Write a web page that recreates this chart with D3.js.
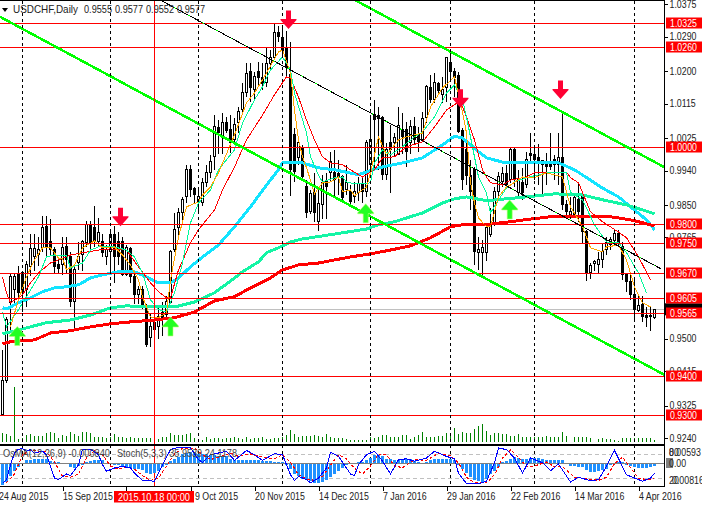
<!DOCTYPE html>
<html><head><meta charset="utf-8">
<style>html,body{margin:0;padding:0;background:#fff}svg{display:block}text{font-family:"Liberation Sans",Arial,sans-serif}</style>
<script src="https://cdn.jsdelivr.net/npm/d3@7/dist/d3.min.js"></script>
</head><body><script>
const open=[.9301,.9390,.9594,.9628,.9668,.9673,.9628,.9689,.9715,.9720,
.9739,.9794,.9754,.9733,.9694,.9694,.9741,.9715,.9598,.9700,
.9720,.9752,.9799,.9791,.9754,.9754,.9715,.9728,.9773,.9754,
.9754,.9668,.9736,.9663,.9616,.9629,.9579,.9504,.9543,.9533,
.9569,.9564,.9595,.9733,.9791,.9830,.9872,.9942,.9893,.9856,
.9856,.9908,.9934,.9976,1.0052,1.0028,1.0065,1.0047,1.0021,1.0065,
1.0099,1.0146,1.0198,1.0151,1.0198,1.0182,1.0169,1.0219,1.0235,1.0300,
1.0289,1.0261,1.0190,1.0034,.9974,1.0000,.9898,.9833,.9882,.9806,
.9851,.9911,.9934,.9934,.9932,.9924,.9890,.9885,.9872,.9882,
.9906,.9885,.9955,1.0086,1.0083,1.0078,.9929,1.0013,1.0013,.9982,
1.0047,1.0047,1.0013,1.0055,1.0034,1.0020,1.0078,1.0156,1.0125,1.0167,
1.0138,1.0156,1.0222,1.0198,1.0188,1.0044,.9994,.9927,.9942,.9726,
.9726,.9726,.9773,.9799,.9885,.9911,.9932,.9916,.9994,.9882,
.9908,.9903,.9984,.9981,.9973,.9966,.9960,.9960,.9968,.9955,
.9973,.9851,.9825,.9825,.9864,.9872,.9780,.9673,.9697,.9694,
.9707,.9733,.9746,.9757,.9775,.9741,.9668,.9650,.9616,.9574,
.9590,.9561,.9561,.9555];
const high=[.9471,.9556,.9673,.9668,.9689,.9676,.9702,.9773,.9773,.9767,
.9820,.9820,.9812,.9739,.9715,.9765,.9765,.9728,.9689,.9754,
.9759,.9807,.9807,.9848,.9817,.9773,.9746,.9778,.9796,.9778,
.9767,.9746,.9741,.9673,.9637,.9637,.9590,.9564,.9561,.9585,
.9595,.9611,.9733,.9830,.9843,.9872,.9955,.9955,.9898,.9898,
.9921,.9955,.9981,1.0086,1.0073,1.0091,1.0081,1.0086,1.0078,1.0107,
1.0169,1.0222,1.0222,1.0198,1.0224,1.0222,1.0261,1.0255,1.0326,1.0318,
1.0313,1.0305,1.0276,1.0052,1.0020,1.0008,.9916,.9890,.9934,.9898,
.9929,.9934,.9989,.9994,.9968,.9929,.9955,.9903,.9911,.9924,
.9921,1.0020,1.0078,1.0125,1.0107,1.0083,1.0013,1.0060,1.0039,1.0107,
1.0091,1.0068,1.0073,1.0081,1.0055,1.0094,1.0164,1.0190,1.0195,1.0172,
1.0185,1.0237,1.0248,1.0209,1.0198,1.0052,1.0047,.9968,.9948,.9767,
.9759,.9799,.9843,.9898,.9937,.9950,.9955,1.0000,1.0000,.9942,
.9947,.9989,1.0039,1.0002,1.0010,.9968,.9986,1.0039,.9981,1.0039,
1.0091,.9864,.9872,.9877,.9911,.9882,.9785,.9699,.9707,.9728,
.9751,.9767,.9765,.9788,.9785,.9754,.9673,.9673,.9654,.9613,
.9611,.9584,.9582,.9577];
const low=[.9299,.9383,.9524,.9594,.9602,.9569,.9582,.9663,.9676,.9689,
.9726,.9713,.9720,.9668,.9668,.9666,.9673,.9582,.9524,.9681,
.9676,.9739,.9733,.9739,.9739,.9713,.9694,.9673,.9647,.9694,
.9663,.9663,.9647,.9590,.9590,.9577,.9478,.9478,.9499,.9499,
.9506,.9556,.9590,.9728,.9767,.9804,.9856,.9872,.9856,.9833,
.9846,.9898,.9921,.9942,.9982,.9982,1.0039,.9987,1.0008,1.0039,
1.0094,1.0133,1.0120,1.0125,1.0164,1.0151,1.0159,1.0203,1.0235,1.0276,
1.0242,1.0185,.9874,.9911,.9955,.9916,.9817,.9827,.9804,.9783,
.9812,.9812,.9911,.9872,.9877,.9859,.9877,.9851,.9856,.9859,
.9856,.9872,.9929,.9942,.9942,.9916,.9916,.9882,.9976,.9980,
.9982,.9950,.9982,1.0008,.9989,1.0020,1.0065,1.0117,1.0117,1.0138,
1.0117,1.0120,1.0177,1.0133,1.0039,.9890,.9903,.9838,.9694,.9681,
.9666,.9702,.9767,.9794,.9864,.9898,.9895,.9908,.9898,.9872,
.9864,.9895,.9960,.9916,.9903,.9877,.9903,.9942,.9916,.9903,
.9837,.9817,.9812,.9822,.9804,.9751,.9650,.9655,.9676,.9673,
.9686,.9720,.9733,.9746,.9739,.9654,.9621,.9602,.9550,.9571,
.9545,.9530,.9520,.9552];
const close=[.9390,.9550,.9663,.9663,.9621,.9621,.9694,.9736,.9736,.9733,
.9791,.9741,.9733,.9689,.9684,.9739,.9707,.9598,.9681,.9715,
.9754,.9799,.9752,.9754,.9778,.9726,.9733,.9773,.9715,.9715,
.9668,.9739,.9663,.9616,.9629,.9585,.9486,.9533,.9525,.9559,
.9556,.9598,.9728,.9786,.9830,.9864,.9942,.9890,.9877,.9872,
.9908,.9934,.9963,1.0054,1.0039,1.0065,1.0044,1.0013,1.0060,1.0094,
1.0143,1.0195,1.0156,1.0185,1.0182,1.0167,1.0219,1.0235,1.0300,1.0289,
1.0256,1.0208,.9942,.9937,1.0013,.9924,.9830,.9880,.9830,.9853,
.9908,.9898,.9963,.9916,.9924,.9869,.9908,.9859,.9885,.9906,
.9885,1.0013,1.0020,1.0073,1.0075,.9929,.9994,.9994,1.0026,1.0057,
1.0028,.9989,1.0055,1.0020,1.0015,1.0075,1.0159,1.0125,1.0169,1.0148,
1.0151,1.0235,1.0198,1.0182,1.0042,.9916,.9927,.9885,.9728,.9733,
.9739,.9791,.9799,.9885,.9924,.9932,.9903,.9994,.9916,.9916,
.9882,.9968,.9979,.9968,.9963,.9955,.9950,.9950,.9955,.9973,
.9851,.9833,.9833,.9869,.9833,.9780,.9673,.9692,.9702,.9707,
.9728,.9751,.9759,.9775,.9752,.9668,.9650,.9616,.9577,.9587,
.9559,.9556,.9558,.9577];
const volume=[9,8,6,55,3,4,7,8,6,6,6,9,10,9,4,7,6,10,8,6,10,10,9,5,5,5,4,5,8,5,5,4,5,4,4,4,4,4,4,3,5,5,9,7,7,7,8,9,4,3,2,5,3,4,4,3,4,4,5,4,3,5,3,4,4,5,3,3,4,4,5,7,12,8,5,6,6,6,7,6,5,8,5,4,4,4,3,2,2,2,2,2,5,4,5,7,7,5,5,5,7,7,3,5,7,10,5,5,5,6,6,9,6,14,8,10,9,9,13,16,18,11,7,9,9,8,8,6,6,8,5,5,5,5,5,5,6,5,5,5,10,6,0,5,5,5,5,4,0,3,4,3,3,2,1,4,4,4,4,4,4,4,4,2];
const osmaTicks=[-65,-55,-37,-22,-10,-2,12,12,15,15,13,13,9,5,4,2,-1,-10,-12,-8,-3,4,8,10,10,12,0,-1,-3,-5,-8,-11,-14,-17,-17,-20,-27,-30,-29,-22,-10,-3,7,13,20,28,33,35,35,30,30,28,27,25,24,22,22,15,12,10,10,10,10,10,10,9,8,7,6,6,4,-3,-15,-30,-38,-45,-48,-52,-57,-58,-56,-50,-40,-30,-22,-12,-5,0,2,4,5,10,18,25,25,22,15,13,12,12,13,14,13,8,4,3,4,10,15,15,15,15,13,12,-3,-15,-28,-40,-48,-52,-55,-45,-30,-22,-10,4,7,15,20,17,15,15,16,18,18,15,12,10,10,10,10,3,-8,-8,-9,-10,-20,-24,-25,-23,-20,-15,-5,2,5,4,-3,-7,-10,-12,-12,-12,-10,-7];
const stochBars=[0,1,2,3,4,5,6,7,8,10,11,13,14,16,17,19,20,22,24,25,26,28,30,32,33,35,38,40,42,44,47,49,50,52,56,58,61,63,65,68,70,72,73,74,76,77,79,81,82,84,87,88,89,91,93,95,97,99,101,103,106,108,111,113,114,116,119,121,123,124,126,128,130,132,135,137,139,142,144,147,149,151,153,156,158,160,162,163];
const stochMain=[7,16,53,82,92,93,87,91,82,87,78,20,16,30,26,53,91,92,78,53,37,45,49,45,32,14,12,53,91,97,95,66,59,78,87,64,89,78,64,81,78,28,14,24,16,8,20,45,84,74,30,26,53,78,87,62,30,66,68,62,70,87,74,68,32,6,5,12,58,95,91,70,32,70,58,38,55,10,22,13,16,49,89,28,20,12,20,32];
const signalBars=[1,3,5,7,9,11,13,15,17,19,21,23,25,27,29,31,33,35,37,39,41,43,45,48,50,52,54,57,59,62,65,68,70,72,74,76,78,80,82,84,86,88,90,92,94,96,98,100,103,106,109,112,114,116,118,121,123,125,127,129,131,133,136,138,140,143,146,149,151,153,155,157,159,161,163];
const stochSignal=[8,30,78,90,87,85,60,24,22,30,70,88,78,50,42,47,42,26,14,20,50,80,94,95,78,66,72,82,74,80,72,68,78,60,28,18,14,24,52,78,68,44,30,50,80,78,50,46,66,64,82,76,58,22,8,8,28,70,90,72,48,50,60,48,48,22,18,14,22,56,72,46,20,16,18];
const ma200Bars=[0,2,8,12,17,22,27,32,38,43,48,53,58,62,67,70,74,79,87,92,97,102,107,112,116,122,127,132,137,142,147,152,157,159,163];
const ma200=[.9487,.9492,.9497,.9515,.9521,.9531,.9539,.9544,.9549,.9555,.9570,.9599,.9610,.9633,.9659,.9680,.9693,.9698,.9714,.9722,.9732,.9743,.9764,.9793,.9800,.9800,.9806,.9813,.9819,.9821,.9819,.9819,.9811,.9806,.9795];
const ma144Bars=[0,4,11,17,22,27,31,37,43,48,53,58,60,64,66,69,70,72,75,80,85,91,94,98,105,110,113,116,121,126,131,138,145,151,156,163];
const ma144=[.9513,.9523,.9542,.9549,.9562,.9581,.9586,.9583,.9583,.9596,.9620,.9659,.9675,.9701,.9725,.9738,.9743,.9753,.9761,.9769,.9777,.9787,.9798,.9806,.9829,.9855,.9866,.9871,.9861,.9866,.9871,.9879,.9876,.9861,.9850,.9827];
const ma50Bars=[0,1,4,7,10,13,16,19,22,25,29,33,36,39,42,44,47,50,54,58,62,66,69,70,73,75,79,83,89,94,100,105,110,113,115,119,121,125,131,135,139,143,150,154,157,161,163];
const ma50=[.9581,.9578,.9594,.9607,.9623,.9633,.9636,.9641,.9659,.9667,.9675,.9675,.9662,.9646,.9646,.9659,.9688,.9714,.9745,.9793,.9845,.9902,.9942,.9960,.9962,.9960,.9947,.9942,.9929,.9947,.9960,.9973,1.0007,1.0030,1.0025,.9989,.9973,.9962,.9960,.9960,.9960,.9942,.9894,.9871,.9845,.9811,.9785];
const ema5Bars=[2,4,6,8,10,12,14,15,16,18,20,23,25,28,30,32,34,35,37,39,41,42,44,46,49,50,52,54,58,61,63,66,69,70,72,73,74,75,76,77,78,80,82,84,85,87,88,91,92,94,96,99,101,105,107,110,113,115,116,117,118,119,121,122,124,126,127,130,133,136,140,142,145,147,150,151,154,156,158,160,162];
const ema5=[.9531,.9602,.9662,.9706,.9738,.9738,.9711,.9711,.9680,.9693,.9738,.9756,.9738,.9740,.9719,.9693,.9654,.9610,.9557,.9555,.9568,.9654,.9766,.9845,.9858,.9876,.9897,.9934,1.0033,1.0117,1.0143,1.0195,1.0250,1.0255,1.0195,1.0098,1.0020,.9976,.9947,.9915,.9879,.9908,.9910,.9923,.9884,.9889,.9874,.9897,.9934,1.0028,.9981,1.0020,1.0028,1.0038,1.0106,1.0156,1.0185,1.0093,1.0038,.9908,.9855,.9816,.9793,.9793,.9871,.9897,.9902,.9923,.9921,.9934,.9923,.9845,.9793,.9738,.9727,.9740,.9745,.9706,.9636,.9594,.9583];
const ema12Bars=[0,1,4,6,9,11,13,16,17,20,22,24,28,31,33,35,37,39,41,43,45,47,49,52,54,58,60,63,65,67,70,72,73,76,77,79,80,83,85,86,88,90,92,93,95,97,100,103,105,108,111,113,115,116,119,121,122,124,126,128,131,136,141,142,145,148,151,154,156,159,161];
const ema12=[.9570,.9531,.9576,.9610,.9662,.9714,.9719,.9717,.9685,.9698,.9732,.9740,.9740,.9732,.9714,.9672,.9602,.9576,.9570,.9620,.9698,.9803,.9855,.9889,.9942,.9994,1.0064,1.0125,1.0159,1.0203,1.0237,1.0203,1.0143,1.0038,.9976,.9928,.9910,.9921,.9923,.9910,.9905,.9905,.9908,.9960,.9994,.9981,1.0002,1.0028,1.0041,1.0080,1.0143,1.0164,1.0125,1.0080,.9923,.9881,.9829,.9863,.9894,.9910,.9921,.9934,.9934,.9884,.9863,.9798,.9753,.9751,.9725,.9672,.9620];
const ema26Bars=[0,1,2,4,5,7,9,12,14,17,20,24,27,31,34,37,39,41,42,44,47,49,53,55,58,61,65,68,71,72,74,76,78,80,82,85,87,90,93,95,98,101,105,108,111,114,115,116,118,120,121,122,125,127,131,133,138,141,142,144,147,150,154,156,159,162];
const ema26=[.9662,.9620,.9594,.9607,.9615,.9646,.9672,.9698,.9706,.9719,.9725,.9732,.9735,.9732,.9688,.9646,.9623,.9607,.9607,.9680,.9751,.9785,.9837,.9889,.9949,1.0020,1.0085,1.0138,1.0185,1.0182,1.0132,1.0072,1.0020,.9976,.9960,.9955,.9942,.9923,.9942,.9973,.9976,1.0002,1.0015,1.0054,1.0098,1.0119,1.0106,1.0080,1.0020,.9942,.9923,.9908,.9902,.9915,.9923,.9934,.9936,.9936,.9921,.9908,.9832,.9806,.9779,.9764,.9714,.9654];
const levelPrices=[1.0325,1.0262,1.0000,.9800,.9750,.9670,.9605,.9565,.9400,.9300];
const levelLabels=["1.0325","1.0260","1.0000","0.9800","0.9750","0.9670","0.9605","0.9565","0.9400","0.9300"];
const priceTicks=[1.0375,1.0290,1.0200,1.0115,1.0025,.9940,.9850,.9765,.9500,.9415,.9325,.9240];
const dashBars=[5,27,49,70,92,112,133,158];
const dateBars=[-1,15,47,63,79,95,111,127,143,159];
const dateLabels=["24 Aug 2015","15 Sep 2015","9 Oct 2015","20 Nov 2015","14 Dec 2015","7 Jan 2016","29 Jan 2016","22 Feb 2016","14 Mar 2016","4 Apr 2016"];
const trendThickABars=[-0.6,165.4], trendThickA=[1.0342,.9406];
const trendThickBBars=[88.1,165.4], trendThickB=[1.0386,.9949];
const trendThinBars=[39.4,164.6], trendThin=[1.0386,.9683];
const downBars=[29.5,71.5,114.5,139.5], downTips=[.9794,1.0310,1.0104,1.0127];
const upBars=[3.7,42,90.8,126.8], upTips=[.9532,.9557,.9853,.9863];
const lastClose=.9577;

const W=702,H=505,plotR=664;
const x=d3.scaleLinear().domain([0,163]).range([2.5,654.5]);
const y=d3.scaleLinear().domain([1.0325,.93]).range([23.3,415.2]);
const vy=d3.scaleLinear().domain([0,60]).range([442,382]);
const sy=d3.scaleLinear().domain([0,100]).range([486,446]);
const oy=d3.scaleLinear().domain([0,3]).range([463.5,462.5]);
const px=v=>Math.floor(v)+.5;
const svg=d3.select("body").append("svg").attr("width",W).attr("height",H).attr("viewBox",[0,0,W,H]);
svg.append("defs").append("clipPath").attr("id","main").append("rect").attr("width",plotR).attr("height",444);
svg.select("defs").append("clipPath").attr("id","ind").append("rect").attr("y",446).attr("width",plotR).attr("height",40);
const gM=svg.append("g").attr("clip-path","url(#main)").attr("shape-rendering","crispEdges");

gM.append("line").attr("x1",0).attr("x2",plotR).attr("y1",px(y(lastClose))).attr("y2",px(y(lastClose))).attr("stroke","#c0c0c0");
const dash=svg.append("g").attr("shape-rendering","crispEdges");
dash.selectAll("line").data(dashBars).join("line").attr("x1",d=>x(d)).attr("x2",d=>x(d)).attr("y1",1).attr("y2",486).attr("stroke","#000").attr("stroke-dasharray","3,3");

gM.selectAll("line.vol").data(volume).join("line").attr("class","vol").attr("x1",(d,i)=>x(i)).attr("x2",(d,i)=>x(i)).attr("y1",vy(0)).attr("y2",d=>vy(d)).attr("stroke","#008000");

const idx=d3.range(open.length);
gM.selectAll("line.wick").data(idx).join("line").attr("class","wick").attr("x1",i=>x(i)).attr("x2",i=>x(i)).attr("y1",i=>Math.round(y(high[i]))).attr("y2",i=>Math.round(y(low[i]))).attr("stroke","#000");
gM.selectAll("rect.body").data(idx).join("rect").attr("class","body")
 .attr("x",i=>x(i)-1).attr("width",2)
 .attr("y",i=>px(y(Math.max(open[i],close[i]))))
 .attr("height",i=>Math.max(1,Math.round(y(Math.min(open[i],close[i]))-y(Math.max(open[i],close[i])))))
 .attr("fill",i=>close[i]>=open[i]?"#fff":"#000").attr("stroke","#000");

const addLine=(g,bars,vals,scale,color,w,dasharray)=>g.append("path")
 .attr("d",d3.line().x((d,i)=>x(bars[i])).y(d=>scale(d))(vals))
 .attr("fill","none").attr("stroke",color).attr("stroke-width",w).attr("stroke-dasharray",dasharray||null);
addLine(gM,ma50Bars,ma50,y,"#12E4FF",3);
addLine(gM,ma144Bars,ma144,y,"#14F5A5",3);
addLine(gM,ma200Bars,ma200,y,"#FF0000",3);
addLine(gM,ema26Bars,ema26,y,"#FF0000",1);
addLine(gM,ema12Bars,ema12,y,"#00FA9A",1);
addLine(gM,ema5Bars,ema5,y,"#FFA500",1);

gM.selectAll("line.lvl").data(levelPrices).join("line").attr("class","lvl").attr("x1",0).attr("x2",plotR).attr("y1",d=>px(y(d))).attr("y2",d=>px(y(d))).attr("stroke","#f00");
svg.append("line").attr("x1",x(38)).attr("x2",x(38)).attr("y1",1).attr("y2",486).attr("stroke","#f00").attr("shape-rendering","crispEdges");
addLine(gM,trendThickABars,trendThickA,y,"#00FF00",2.5);
addLine(gM,trendThickBBars,trendThickB,y,"#00FF00",2.5);
addLine(gM,trendThinBars,trendThin,y,"#000",1);
addLine(gM,trendThinBars,trendThin,y,"#00FF00",1,"2,14");

const downPath="M0,0 L-8,-9 L-8,-10 L-2.5,-10 L-2.5,-18.5 L2.5,-18.5 L2.5,-10 L8,-10 L8,-9 Z";
const upPath="M0,0 L-8,9 L-8,10 L-2.5,10 L-2.5,19 L2.5,19 L2.5,10 L8,10 L8,9 Z";
const gA=svg.append("g").attr("clip-path","url(#main)");
gA.selectAll("path.dn").data(downBars).join("path").attr("class","dn").attr("d",downPath)
 .attr("transform",(d,i)=>`translate(${x(d)},${y(downTips[i])})`).attr("fill","#FF0033");
gA.selectAll("path.up").data(upBars).join("path").attr("class","up").attr("d",upPath)
 .attr("transform",(d,i)=>`translate(${x(d)},${y(upTips[i])})`).attr("fill","#22FF22").attr("stroke","#B8FF70").attr("stroke-width",.6);

const gI=svg.append("g").attr("clip-path","url(#ind)").attr("shape-rendering","crispEdges");
[20,80].forEach(v=>gI.append("line").attr("x1",0).attr("x2",plotR).attr("y1",px(sy(v))).attr("y2",px(sy(v))).attr("stroke","#c0c0c0").attr("stroke-dasharray","4,3"));
gI.selectAll("rect.h").data(osmaTicks).join("rect").attr("class","h").attr("x",(d,i)=>x(i)-1.5).attr("width",3)
 .attr("y",d=>Math.min(oy(d),oy(0))).attr("height",d=>Math.abs(oy(d)-oy(0))).attr("fill","#1E90FF");
gI.append("line").attr("x1",0).attr("x2",plotR).attr("y1",oy(0)).attr("y2",oy(0)).attr("stroke","#808080").attr("stroke-width",1.5);
const fs=10;
svg.append("text").attr("x",3).attr("y",457).attr("font-size",fs).attr("fill","#444").attr("data-len",107).text("OsMA(12,26,9) -0.000840");
svg.append("text").attr("x",117).attr("y",457).attr("font-size",fs).attr("fill","#444").attr("data-len",120).text("Stoch(5,3,3) 35.9539 24.1178");
addLine(gI,signalBars,stochSignal,sy,"#FF0000",1,"3,2");
addLine(gI,stochBars,stochMain,sy,"#0000FF",1);

const frame=svg.append("g").attr("shape-rendering","crispEdges").attr("stroke","#000");
frame.append("line").attr("x1",0).attr("x2",plotR).attr("y1",.5).attr("y2",.5);
frame.append("line").attr("x1",0).attr("x2",plotR).attr("y1",444.5).attr("y2",444.5).attr("stroke-width",2);
frame.append("line").attr("x1",0).attr("x2",plotR+1).attr("y1",486.5).attr("y2",486.5);
frame.append("line").attr("x1",plotR+.5).attr("x2",plotR+.5).attr("y1",0).attr("y2",487);

const axR=d3.axisRight(y).tickValues(priceTicks).tickFormat(d3.format(".4f")).tickSize(3).tickPadding(2);
const gR=svg.append("g").attr("transform",`translate(${plotR+.5},0)`).call(axR);
gR.select(".domain").remove();
gR.selectAll("text").attr("font-size",fs).attr("fill","#222").style("font-family",'"Liberation Sans",Arial,sans-serif');
gR.selectAll("line").attr("stroke","#000").attr("shape-rendering","crispEdges");

const axB=d3.axisBottom(x).tickValues(dateBars).tickFormat((d,i)=>dateLabels[i]).tickSize(4).tickPadding(2);
const gB=svg.append("g").attr("transform","translate(0,487)").call(axB);
gB.select(".domain").remove();
gB.selectAll("text").attr("text-anchor","start").attr("font-size",fs).attr("fill","#222").attr("dx",(d)=>d===47?4:0).style("font-family",'"Liberation Sans",Arial,sans-serif');
gB.selectAll("line").attr("stroke","#000").attr("shape-rendering","crispEdges");
gB.append("line").attr("x1",x(31)).attr("x2",x(31)).attr("y1",0).attr("y2",4).attr("stroke","#000").attr("shape-rendering","crispEdges");

svg.append("rect").attr("x",plotR+1).attr("width",W-plotR).attr("y",y(lastClose)-6).attr("height",12).attr("fill","#000");
const tags=svg.append("g");
tags.selectAll("rect").data(levelPrices).join("rect").attr("x",666).attr("width",36).attr("y",d=>Math.floor(y(d))-5.5).attr("height",11).attr("fill","#f00");
tags.selectAll("text").data(levelPrices).join("text").attr("x",670).attr("y",d=>Math.floor(y(d))+3.5).attr("font-size",fs).attr("fill","#fff").text((d,i)=>levelLabels[i]);

const osc=svg.append("g").attr("font-size",fs).attr("fill","#222");
osc.append("text").attr("x",669).attr("y",456).text("0.00593");
osc.append("text").attr("x",669).attr("y",456).text("80");
osc.append("rect").attr("x",666).attr("y",458).attr("width",7).attr("height",10).attr("fill","#808080");
osc.append("text").attr("x",669).attr("y",467).text("0.00");
osc.append("text").attr("x",669).attr("y",484).text("20");
osc.append("text").attr("x",672).attr("y",484).text("0.00816");

svg.append("rect").attr("x",114).attr("y",491).attr("width",80).attr("height",11.5).attr("fill","#f00");
svg.append("text").attr("x",118).attr("y",500.5).attr("font-size",fs).attr("fill","#fff").attr("data-len",72).text("2015.10.18 00:00");

svg.append("path").attr("d","M2,8 L8,8 L5,12 Z").attr("fill","#000");
const title=svg.append("g").attr("font-size",fs+.4).attr("fill","#222");
title.append("text").attr("x",13).attr("y",13).attr("data-len",65).text("USDCHF,Daily");
[["0.9555",84],["0.9577",115],["0.9552",146],["0.9577",177]].forEach(t=>title.append("text").attr("x",t[1]).attr("y",13).attr("data-len",28).text(t[0]));

// narrow the Liberation glyphs to the reference's text widths
svg.selectAll("text").each(function(){
  const fixed=this.getAttribute("data-len");
  const w=fixed?+fixed:this.getComputedTextLength()*.88;
  this.setAttribute("textLength",w);
  this.setAttribute("lengthAdjust","spacingAndGlyphs");
});
</script></body></html>
